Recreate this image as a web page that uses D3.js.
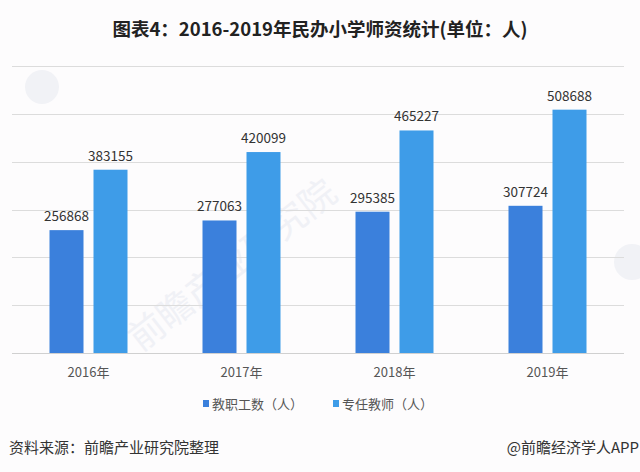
<!DOCTYPE html>
<html><head><meta charset="utf-8">
<script src="https://cdn.jsdelivr.net/npm/d3@7/dist/d3.min.js"></script>
<style>
html,body{margin:0;padding:0;background:#fdfcfd;}
svg{display:block;}
</style></head>
<body><svg id="c" width="640" height="472"></svg>
<script>
const categories = ["2016年","2017年","2018年","2019年"];
const seriesNames = ["教职工数（人）","专任教师（人）"];
const staff = [256868, 277063, 295385, 307724];
const teachers = [383155, 420099, 465227, 508688];
const yTicks = [0,100000,200000,300000,400000,500000,600000];
const colors = ["#3b80dc","#3e9ce8"];

const svg = d3.select("#c");
const W = 640, H = 472;
svg.append("rect").attr("width",W).attr("height",H).attr("fill","#fdfcfd");

const font = "'Microsoft YaHei','Noto Sans CJK SC','Noto Sans',sans-serif";

// faint watermarks
const wm = svg.append("g").attr("font-family",font);
wm.append("circle").attr("cx",42).attr("cy",87).attr("r",17).attr("fill","#f1f2f6");
wm.append("circle").attr("cx",632).attr("cy",262).attr("r",18).attr("fill","#f1f2f6");
wm.append("text").attr("transform","translate(240,275) rotate(-38)")
  .attr("font-size",36).attr("text-anchor","middle").attr("fill","#f0f1f6").text("前瞻产业研究院");

const x0 = d3.scaleBand().domain(categories).range([12,624]).paddingInner(0).paddingOuter(0);
const y = d3.scaleLinear().domain([0,600000]).range([353,66]);

// gridlines
svg.append("g").selectAll("line").data(yTicks).join("line")
  .attr("x1",12).attr("x2",624)
  .attr("y1",d=>Math.round(y(d))+0.5).attr("y2",d=>Math.round(y(d))+0.5)
  .attr("stroke",d=>d===0?"#d0d0d0":"#dcdcdc").attr("stroke-width",1);

const barW = 34, gap = 10;
const series = [staff, teachers];
series.forEach((vals,si)=>{
  const g = svg.append("g");
  const off = si===0 ? -(gap/2+barW) : gap/2;
  g.selectAll("rect").data(vals).join("rect")
    .attr("x",(d,i)=>x0(categories[i])+x0.bandwidth()/2+off)
    .attr("width",barW)
    .attr("y",d=>y(d))
    .attr("height",d=>y(0)-y(d))
    .attr("fill",colors[si]);
  g.selectAll("text").data(vals).join("text")
    .attr("x",(d,i)=>x0(categories[i])+x0.bandwidth()/2+off+barW/2)
    .attr("y",d=>y(d)-9)
    .attr("text-anchor","middle")
    .attr("font-family",font).attr("font-size",13.5).attr("fill","#333")
    .text(d=>d);
});

// x axis labels
const xAxis = d3.axisBottom(x0).tickSize(0).tickPadding(0);
const xg = svg.append("g").attr("transform","translate(0,353)").call(xAxis);
xg.select(".domain").remove();
xg.selectAll("text").attr("y",15).attr("font-family",font).attr("font-size",13).attr("fill","#555");

// title
svg.append("text").attr("x",320).attr("y",36).attr("text-anchor","middle")
  .attr("font-family",font).attr("font-weight","bold").attr("font-size",18.5).attr("fill","#222")
  .text("图表4：2016-2019年民办小学师资统计(单位：人)");

// legend
const legX = [203,333];
seriesNames.forEach((n,i)=>{
  svg.append("rect").attr("x",legX[i]).attr("y",400).attr("width",6).attr("height",7).attr("fill",colors[i]);
  svg.append("text").attr("x",legX[i]+9).attr("y",408.5)
    .attr("font-family",font).attr("font-size",13).attr("fill","#555").text(n);
});

// footer
svg.append("text").attr("x",9).attr("y",453).attr("font-family",font).attr("font-size",15).attr("fill","#333")
  .text("资料来源：前瞻产业研究院整理");
svg.append("text").attr("x",639).attr("y",453).attr("text-anchor","end").attr("font-family",font).attr("font-size",15).attr("fill","#333")
  .text("@前瞻经济学人APP");
</script></body></html>
